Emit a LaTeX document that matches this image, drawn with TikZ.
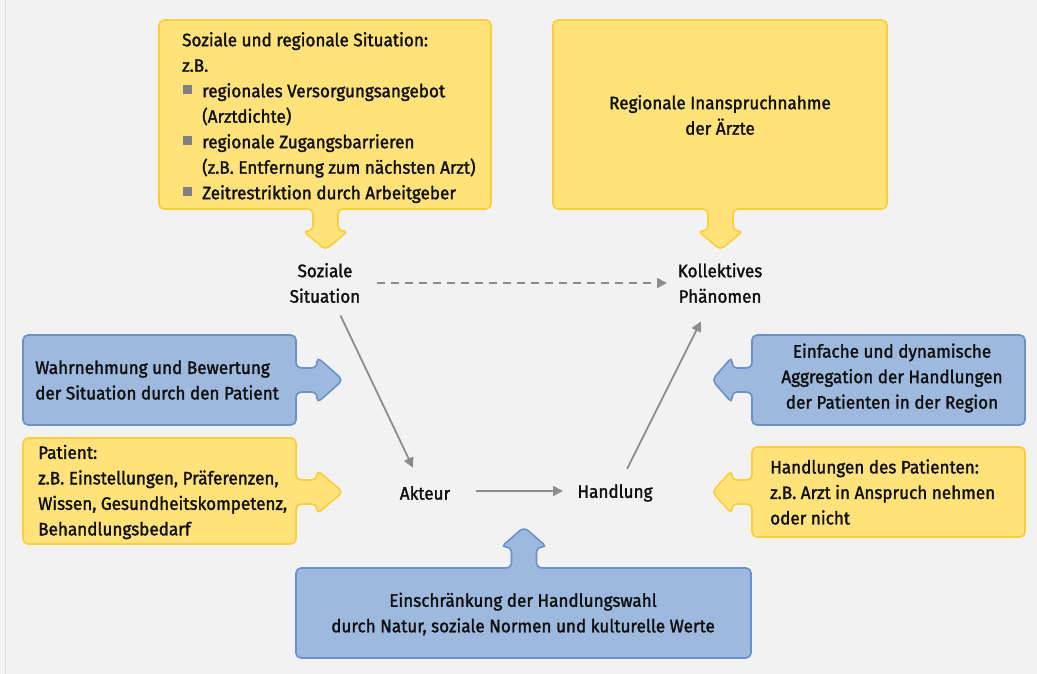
\documentclass[tikz,border=0pt]{standalone}
\usepackage{fontspec}
\setmainfont{Fira Sans}[FakeStretch=0.95, FakeBold=1.6]
\usetikzlibrary{arrows.meta,calc}

\definecolor{bg}{RGB}{242,242,242}
\definecolor{yelfill}{RGB}{255,226,122}
\definecolor{yeledge}{RGB}{252,206,58}
\definecolor{bluefill}{RGB}{158,185,222}
\definecolor{blueedge}{RGB}{106,145,202}
\definecolor{linkgray}{RGB}{140,140,140}
\definecolor{bulletgray}{RGB}{128,128,128}
\definecolor{ink}{RGB}{15,15,15}

\newcommand{\sqbul}{\makebox[20pt][l]{\hspace{1pt}\textcolor{bulletgray}{\raisebox{3.5pt}{\rule{8.5pt}{8.5pt}}}}}

\tikzset{
  x=1pt, y=-1pt,
  txt/.style={inner sep=0pt, text=ink, font=\fontsize{18}{25.5}\selectfont},
  yshape/.style={fill=yelfill, draw=yeledge, line width=1.6pt, rounded corners=5pt},
  bshape/.style={fill=bluefill, draw=blueedge, line width=1.6pt, rounded corners=5pt},
  link/.style={draw=linkgray, line width=1.8pt, -{Triangle[length=10pt,width=10pt]}},
}

\begin{document}
\begin{tikzpicture}
  % canvas
  \fill[bg] (0,0) rectangle (1037,674);
  \useasboundingbox (0,0) rectangle (1037,674);
  \draw[black!12, line width=1pt] (5,0) -- (5,674);

  % top left: social and regional situation, arrow down
  \path[yshape] (159,20) -- (491,20) -- (491,209) -- (338,209) -- (338,231) -- (348,231)
    -- (325.5,250) -- (303,231) -- (313,231) -- (313,209) -- (159,209) -- cycle;
  % top right: regional utilisation, arrow down
  \path[yshape] (553,20) -- (887,20) -- (887,209) -- (733,209) -- (733,231) -- (743,231)
    -- (720.5,250) -- (698,231) -- (708,231) -- (708,209) -- (553,209) -- cycle;
  % left blue: perception, arrow right
  \path[bshape] (23,335) -- (296,335) -- (296,368) -- (317,368) -- (317,357) -- (343,380)
    -- (317,403) -- (317,392) -- (296,392) -- (296,425) -- (23,425) -- cycle;
  % left yellow: patient, arrow right
  \path[yshape] (23,438) -- (296,438) -- (296,480) -- (317,480) -- (317,470) -- (343,492)
    -- (317,514) -- (317,504) -- (296,504) -- (296,544) -- (23,544) -- cycle;
  % right blue: aggregation, arrow left
  \path[bshape] (1025,335) -- (752,335) -- (752,368) -- (732,368) -- (732,357) -- (712,380)
    -- (732,403) -- (732,392) -- (752,392) -- (752,425) -- (1025,425) -- cycle;
  % right yellow: actions, arrow left
  \path[yshape] (1025,447) -- (752,447) -- (752,480) -- (732,480) -- (732,470) -- (712,492)
    -- (732,514) -- (732,504) -- (752,504) -- (752,537) -- (1025,537) -- cycle;
  % bottom blue: restrictions, arrow up
  \path[bshape] (296,658) -- (296,568) -- (511.5,568) -- (511.5,547) -- (501,547) -- (524,527)
    -- (547,547) -- (536.5,547) -- (536.5,568) -- (751,568) -- (751,658) -- cycle;

  % box texts
  \node[txt, anchor=north west, align=left] (sit) at (182,32)
    {Soziale und regionale Situation:\\
     z.B.\\
     \sqbul regionales Versorgungsangebot\\
     \hspace*{20pt}(Arztdichte)\\
     \sqbul regionale Zugangsbarrieren\\
     \hspace*{20pt}(z.B. Entfernung zum nächsten Arzt)\\
     \sqbul Zeitrestriktion durch Arbeitgeber};
  \node[txt, align=center] (reg) at (720,115) {Regionale Inanspruchnahme\\der Ärzte};
  \node[txt, anchor=west, align=left] (wahr) at (35,380) {Wahrnehmung und Bewertung\\der Situation durch den Patient};
  \node[txt, anchor=west, align=left] (pat) at (38,492) {Patient:\\z.B. Einstellungen, Präferenzen,\\Wissen, Gesundheitskompetenz,\\Behandlungsbedarf};
  \node[txt, align=center] (aggr) at (892,378) {Einfache und dynamische\\Aggregation der Handlungen\\der Patienten in der Region};
  \node[txt, anchor=west, align=left] (handl) at (770,492) {Handlungen des Patienten:\\z.B. Arzt in Anspruch nehmen\\oder nicht};
  \node[txt, align=center] (einschr) at (523,614) {Einschränkung der Handlungswahl\\durch Natur, soziale Normen und kulturelle Werte};

  % model nodes
  \node[txt, align=center] (soz) at (325,283) {Soziale\\Situation};
  \node[txt, align=center] (koll) at (720,283) {Kollektives\\Phänomen};
  \node[txt] (akt) at (425,493) {Akteur};
  \node[txt] (hand) at (615,493) {Handlung};

  % connectors
  \draw[link, dashed, dash pattern=on 8pt off 6pt, shorten <=52pt, shorten >=53pt] (soz.center) -- (koll.center);
  \draw[link, shorten <=36pt, shorten >=28pt] (soz.center) -- (akt.center);
  \draw[link, shorten <=51pt, shorten >=52pt] ([yshift=2pt]akt.center) -- ([yshift=2pt]hand.center);
  \draw[link, shorten <=27pt, shorten >=43pt] (hand.center) -- (koll.center);
\end{tikzpicture}
\end{document}
